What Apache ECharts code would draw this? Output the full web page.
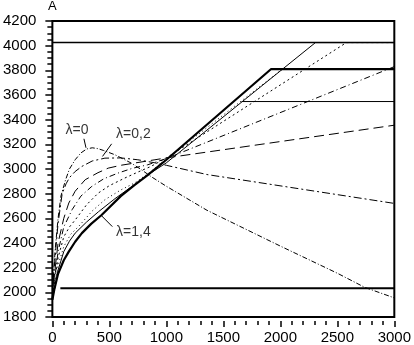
<!DOCTYPE html>
<html><head><meta charset="utf-8">
<script src="https://cdn.jsdelivr.net/npm/echarts@6/dist/echarts.min.js"></script>
<style>html,body{margin:0;padding:0;background:#fff}#c{width:414px;height:345px}</style>
</head><body><div id="c"></div>
<script>
// tick labels
const xTicks = [0, 500, 1000, 1500, 2000, 2500, 3000];
const yTicks = [1800, 2000, 2200, 2400, 2600, 2800, 3000, 3200, 3400, 3600, 3800, 4000, 4200];
const yName = 'A';

// curves (x, A) for λ = 0 … 1.4
const lam00 = [[0,1960],[12,2180],[25,2350],[50,2600],[75,2780],[115,2910],[150,3000],[200,3075],[250,3130],[300,3162],[350,3172],[400,3165],[450,3150],[550,3115],[692,3048],[780,2995],[865,2939],[1000,2860],[1357,2665],[2000,2375],[2500,2155],[2741,2040],[3000,1955]];
const lam02 = [[0,1955],[12,2140],[25,2300],[50,2560],[86,2800],[120,2880],[150,2930],[200,2980],[259,3021],[350,3065],[461,3088],[600,3090],[750,3075],[900,3050],[1000,3030],[1357,2955],[3000,2721]];
const lam04 = [[0,1950],[12,2090],[25,2200],[50,2400],[100,2600],[144,2724],[200,2820],[288,2913],[400,2970],[490,3007],[600,3030],[720,3048],[900,3075],[1000,3090],[3000,3355]];
const lam06 = [[0,1950],[12,2060],[25,2150],[50,2330],[100,2530],[173,2670],[250,2780],[346,2859],[450,2920],[576,2967],[700,3005],[836,3034],[1000,3085],[3000,3830]];
const lam08 = [[0,1945],[12,2040],[25,2120],[50,2280],[100,2450],[150,2530],[202,2589],[300,2710],[403,2805],[500,2865],[634,2926],[750,2975],[865,3021],[1000,3090],[2580,4025],[3000,4025]];
const lam10 = [[0,1945],[12,2020],[25,2080],[50,2220],[100,2370],[160,2470],[231,2535],[350,2660],[461,2751],[600,2830],[720,2886],[850,2970],[1000,3080],[2017,3809],[3000,3809]];
const lam12 = [[0,1940],[12,2000],[25,2050],[50,2180],[100,2330],[150,2415],[200,2480],[300,2570],[404,2653],[550,2760],[700,2860],[850,2960],[1000,3050],[2308,4025],[3000,4025]];
const lam14 = [[0,1940],[17,2023],[50,2150],[100,2260],[144,2330],[200,2410],[259,2480],[340,2555],[432,2627],[600,2780],[720,2870],[836,2951],[1000,3075],[1917,3809],[3000,3809]];

// horizontal limit lines
const limitTop = [[0,4025],[3000,4025]];
const limitMid = [[1660,3547],[3000,3547]];
const limitLow = [[70,2033],[3000,2033]];

// annotations (data units)
const labelTexts = ['λ=0', 'λ=0,2', 'λ=1,4'];
const labelAt = [[217,3318],[711,3285],[711,2484]];
const leaderFrom = [[295,3172],[440,3102],[425,2627]];
const leaderTo = [[277,3245],[520,3204],[526,2533]];

const curves = [lam00, lam02, lam04, lam06, lam08, lam10, lam12, lam14];
const styles = [
  {type:[5,2,1,2], width:1},
  {type:[8,3,2,3], width:1},
  {type:[10,5], width:1},
  {type:[6,3,1,3], width:1},
  {type:[2,3], width:1},
  {type:[1,3], width:1},
  {type:'solid', width:1},
  {type:'solid', width:2.2}
];

const FONT = 'Liberation Sans, Arial, sans-serif';
const series = [];
curves.forEach((c, i) => {
  series.push({type:'line', data:c, showSymbol:false, symbol:'none', smooth:false,
    lineStyle:Object.assign({color:'#000'}, styles[i]), silent:true, z:3});
});
[[limitTop,1.5],[limitMid,1],[limitLow,2.2]].forEach(([d,w]) => {
  series.push({type:'line', data:d, showSymbol:false, symbol:'none', lineStyle:{color:'#000', width:w}, silent:true, z:2});
});
labelTexts.forEach((t, i) => {
  series.push({type:'line', data:[leaderFrom[i], leaderTo[i]], showSymbol:false, symbol:'none', lineStyle:{color:'#000', width:1}, silent:true, z:4});
  series.push({type:'scatter', data:[labelAt[i]], symbolSize:1, itemStyle:{color:'transparent'}, silent:true, z:5,
    label:{show:true, position:'inside', formatter:t, color:'#000', fontSize:14, fontFamily:FONT}});
});

const chart = echarts.init(document.getElementById('c'), null, {renderer:'canvas'});
chart.setOption({
  animation:false,
  backgroundColor:'#fff',
  grid:{left:51, right:17, top:21, bottom:28, show:true, borderColor:'#000', borderWidth:2, backgroundColor:'transparent'},
  xAxis:{type:'value', min:xTicks[0], max:xTicks[xTicks.length-1], interval:xTicks[1]-xTicks[0], offset:4,
    axisLine:{show:false}, splitLine:{show:false},
    axisTick:{show:true, length:6, lineStyle:{color:'#000', width:1.5}},
    minorTick:{show:true, splitNumber:5, length:4, lineStyle:{color:'#000', width:1.5}},
    axisLabel:{color:'#000', fontSize:15, fontFamily:FONT, margin:9, formatter:v => String(v)}},
  yAxis:{type:'value', min:yTicks[0], max:yTicks[yTicks.length-1], interval:yTicks[1]-yTicks[0], offset:4,
    name:yName, nameLocation:'end', nameGap:8, nameTextStyle:{color:'#000', fontSize:13, fontFamily:FONT, align:'center'},
    axisLine:{show:false}, splitLine:{show:false},
    axisTick:{show:true, length:7, lineStyle:{color:'#000', width:1.5}},
    minorTick:{show:true, splitNumber:4, length:5, lineStyle:{color:'#000', width:1.5}},
    axisLabel:{color:'#000', fontSize:15, fontFamily:FONT, margin:12, formatter:v => String(v)}},
  series:series
});
</script>
</body></html>
